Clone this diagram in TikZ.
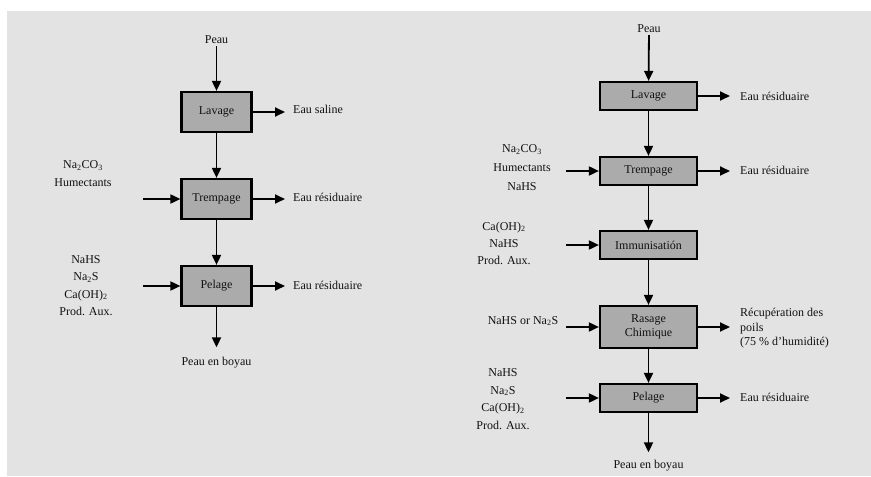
\documentclass[tikz,border=0pt]{standalone}
\usepackage{fontspec}
\setmainfont{Liberation Serif}
\usetikzlibrary{arrows.meta, positioning}

\definecolor{bggray}{HTML}{E3E3E3}
\definecolor{boxgray}{HTML}{ABABAB}
\definecolor{inkgray}{HTML}{111111}

\begin{document}
\begin{tikzpicture}[x=1pt, y=-1pt, >={Triangle[length=10pt, width=9pt]},
    font=\fontsize{12}{17.5}\selectfont, text=inkgray,
    proc/.style={draw=black, line width=2.2pt, fill=boxgray, inner sep=0pt, align=center},
    procA/.style={proc, minimum width=70pt, minimum height=40pt},
    procB/.style={proc, minimum width=97pt, minimum height=28pt},
    lbl/.style={inner sep=0pt, align=center},
    outlbl/.style={inner sep=0pt, anchor=west, align=left},
    flow/.style={->, line width=1.8pt}]

    % ==========================================
    % Canvas
    % ==========================================
    \useasboundingbox (0,0) rectangle (871,477);
    \fill[bggray] (7,11) rectangle (871,476);

    % ==========================================
    % PANEL 1: Procédé classique
    % ==========================================
    \node[lbl] (peauA) at (216.5,40) {Peau};
    \node[procA] (lavA) at (216.5,112) {Lavage};
    \node[procA] (tremA) at (216.5,199) {Trempage};
    \node[procA] (pelA) at (216.5,286) {Pelage};
    \node[lbl] (boyA) at (216.5,363) {Peau en boyau};

    % Sorties
    \node[outlbl] (salA) at (293,109) {Eau saline};
    \node[outlbl] (resA1) at (293,197) {Eau résiduaire};
    \node[outlbl] (resA2) at (293,285) {Eau résiduaire};

    % Entrées
    \node[lbl] (inTA) at (83,173.5) {Na\textsubscript{2}CO\textsubscript{3}\\Humectants};
    \node[lbl] (inPA) at (86,285.5) {NaHS\\Na\textsubscript{2}S\\Ca(OH)\textsubscript{2}\\Prod. Aux.};
    \coordinate (srcTA) at (143,199);
    \coordinate (srcPA) at (143,286);

    \draw[flow, shorten <=2pt] (peauA) -- (lavA);
    \draw[flow] (lavA) -- (tremA);
    \draw[flow] (tremA) -- (pelA);
    \draw[flow, shorten >=10pt] (pelA) -- (boyA);

    \draw[flow, shorten >=8pt] (lavA) -- (lavA -| salA.west);
    \draw[flow, shorten >=8pt] (tremA) -- (tremA -| resA1.west);
    \draw[flow, shorten >=8pt] (pelA) -- (pelA -| resA2.west);

    \draw[flow] (srcTA) -- (tremA);
    \draw[flow] (srcPA) -- (pelA);

    % ==========================================
    % PANEL 2: Procédé avec récupération des poils
    % ==========================================
    \node[lbl] (peauB) at (649,29) {Peau};
    \node[procB] (lavB) at (648.5,96) {Lavage};
    \node[procB] (tremB) at (648.5,171) {Trempage};
    \node[procB] (immB) at (648.5,245) {Immunisatión};
    \node[procB, minimum height=42pt, font=\fontsize{12}{14}\selectfont] (rasB) at (648.5,327) {Rasage\\Chimique};
    \node[procB] (pelB) at (648.5,398) {Pelage};
    \node[lbl] (boyB) at (648.5,466) {Peau en boyau};

    % Sorties
    \node[outlbl] (resB1) at (740,96) {Eau résiduaire};
    \node[outlbl] (resB2) at (740,170) {Eau résiduaire};
    \node[outlbl, font=\fontsize{12}{14.5}\selectfont] (recB) at (740,328.5) {Récupération des\\poils\\(75 \% d'humidité)};
    \node[outlbl] (resB3) at (740,397) {Eau résiduaire};

    % Entrées
    \node[lbl, font=\fontsize{12}{19}\selectfont] (inTB) at (522,168) {Na\textsubscript{2}CO\textsubscript{3}\\Humectants\\NaHS};
    \node[lbl, font=\fontsize{12}{17}\selectfont] (inIB) at (504,243) {Ca(OH)\textsubscript{2}\\NaHS\\Prod. Aux.};
    \node[lbl] (inRB) at (523,321) {NaHS or Na\textsubscript{2}S};
    \node[lbl] (inPB) at (503,399) {NaHS\\Na\textsubscript{2}S\\Ca(OH)\textsubscript{2}\\Prod. Aux.};
    \coordinate (srcTB) at (566,171);
    \coordinate (srcIB) at (566,245);
    \coordinate (srcRB) at (566,327);
    \coordinate (srcPB) at (566,398);

    \draw[flow, shorten <=2pt] (peauB) -- (lavB);
    \draw[flow] (lavB) -- (tremB);
    \draw[flow] (tremB) -- (immB);
    \draw[flow] (immB) -- (rasB);
    \draw[flow] (rasB) -- (pelB);
    \draw[flow, shorten >=8pt] (pelB) -- (boyB);

    \draw[flow, shorten >=10pt] (lavB) -- (lavB -| resB1.west);
    \draw[flow, shorten >=10pt] (tremB) -- (tremB -| resB2.west);
    \draw[flow, shorten >=10pt] (rasB) -- (rasB -| recB.west);
    \draw[flow, shorten >=10pt] (pelB) -- (pelB -| resB3.west);

    \draw[flow] (srcTB) -- (tremB);
    \draw[flow] (srcIB) -- (immB);
    \draw[flow] (srcRB) -- (rasB);
    \draw[flow] (srcPB) -- (pelB);

\end{tikzpicture}
\end{document}
